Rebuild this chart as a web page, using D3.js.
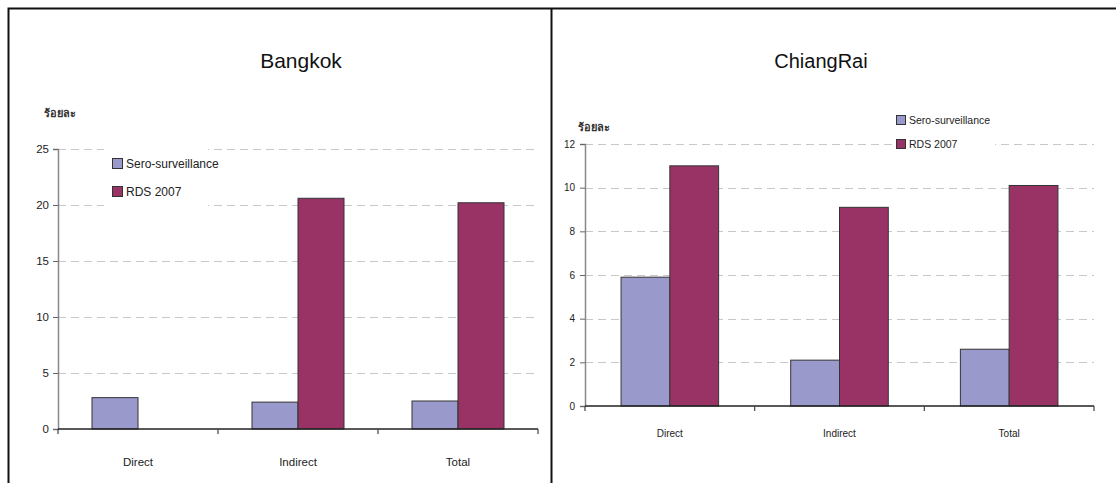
<!DOCTYPE html>
<html><head><meta charset="utf-8">
<script src="https://cdn.jsdelivr.net/npm/d3@7"></script>
<style>body{margin:0;background:#fff}svg{display:block}text{font-family:"Liberation Sans",Arial,sans-serif}</style>
</head><body><svg id="c" width="1116" height="483"></svg>
<script>
const categories = ["Direct","Indirect","Total"];
const seriesNames = ["Sero-surveillance","RDS 2007"];
const bangkokSero = [2.8, 2.4, 2.5];
const bangkokRDS = [null, 20.6, 20.2];
const chiangRaiSero = [5.9, 2.1, 2.6];
const chiangRaiRDS = [11.0, 9.1, 10.1];
const bangkokTicks = [0,5,10,15,20,25];
const chiangRaiTicks = [0,2,4,6,8,10,12];
const colors = ["#9999CC","#993366"];
const yLabel = "ร้อยละ";

const svg = d3.select("#c");
// panel borders
svg.append("path").attr("d","M8.5,483 V8.5 H1116").attr("fill","none").attr("stroke","#111").attr("stroke-width",2);
svg.append("line").attr("x1",551.5).attr("x2",551.5).attr("y1",8).attr("y2",483).attr("stroke","#111").attr("stroke-width",2);

function panel(cfg){
  const g = svg.append("g");
  const x = d3.scaleBand().domain(categories).range([cfg.x0,cfg.x1]);
  const x1 = d3.scaleBand().domain(seriesNames).range([0,x.bandwidth()]).paddingInner(0).paddingOuter(0.739);
  const y = d3.scaleLinear().domain([0,cfg.ticks[cfg.ticks.length-1]]).range([cfg.y0,cfg.yTop]);
  // gridlines
  g.append("g").selectAll("line").data(cfg.ticks.filter(t=>t>0)).join("line")
    .attr("x1",cfg.x0).attr("x2",cfg.x1).attr("y1",d=>Math.round(y(d))+0.5).attr("y2",d=>Math.round(y(d))+0.5)
    .attr("stroke","#c8c8c8").attr("stroke-dasharray","8,5");
  // legend background
  g.append("rect").attr("x",cfg.lg[0]).attr("y",cfg.lg[1]).attr("width",cfg.lg[2]).attr("height",cfg.lg[3]).attr("fill","#fff");
  // bars
  const data = [];
  categories.forEach((c,i)=>{ cfg.vals.forEach((arr,j)=>{ if(arr[i]!=null) data.push({c,s:seriesNames[j],v:arr[i],j}); }); });
  g.append("g").selectAll("rect").data(data).join("rect")
    .attr("x",d=>x(d.c)+x1(d.s)).attr("width",x1.bandwidth())
    .attr("y",d=>y(d.v)).attr("height",d=>y(0)-y(d.v))
    .attr("fill",d=>colors[d.j]).attr("stroke","#333").attr("stroke-width",1);
  // y axis
  const ya = g.append("g").attr("transform",`translate(${cfg.x0},0)`)
    .call(d3.axisLeft(y).tickValues(cfg.ticks).tickSize(5).tickPadding(cfg.tp).tickFormat(d3.format("d")));
  ya.select(".domain").attr("stroke","#888").attr("stroke-width",1.5);
  ya.selectAll(".tick line").attr("stroke","#666");
  ya.selectAll("text").attr("font-size",cfg.fs).attr("fill","#222").attr("font-family","Liberation Sans, Arial, sans-serif");
  // x axis
  g.append("line").attr("x1",cfg.x0).attr("x2",cfg.x1).attr("y1",y(0)).attr("y2",y(0)).attr("stroke","#222").attr("stroke-width",1.5);
  const bounds = categories.map(c=>x(c)).concat([cfg.x1]);
  g.append("g").selectAll("line").data(bounds).join("line")
    .attr("x1",d=>d).attr("x2",d=>d).attr("y1",y(0)).attr("y2",y(0)+5).attr("stroke","#444").attr("stroke-width",1.2);
  g.append("g").selectAll("text").data(categories).join("text")
    .attr("x",d=>x(d)+x.bandwidth()/2).attr("y",cfg.catY).attr("text-anchor","middle")
    .attr("font-size",cfg.fs).attr("fill","#222").text(d=>d);
  // title
  g.append("text").attr("x",cfg.titleX).attr("y",68).attr("text-anchor","middle").attr("font-size",cfg.tfs).attr("fill","#111").text(cfg.title);
  // y label
  g.append("text").attr("x",cfg.ylab[0]).attr("y",cfg.ylab[1]).attr("font-size",11).attr("font-weight","bold").attr("fill","#333").text(yLabel);
  // legend
  seriesNames.forEach((s,j)=>{
    const ly = cfg.leg[1] + j*cfg.leg[2];
    g.append("rect").attr("x",cfg.leg[0]+0.5).attr("y",ly+0.5).attr("width",cfg.sw).attr("height",cfg.sw)
      .attr("fill",colors[j]).attr("stroke","#333");
    g.append("text").attr("x",cfg.leg[0]+cfg.sw+4).attr("y",ly+cfg.sw-0.5).attr("font-size",cfg.lfs).attr("fill","#222").text(s);
  });
}

panel({x0:58,x1:538,y0:429,yTop:149,ticks:bangkokTicks,vals:[bangkokSero,bangkokRDS],fs:11.5,tp:4,catY:466,
  title:"Bangkok",titleX:301,tfs:21,ylab:[44,117],leg:[112,158,28],sw:10,lfs:12,lg:[104,143,104,66]});
panel({x0:585,x1:1094,y0:406,yTop:144,ticks:chiangRaiTicks,vals:[chiangRaiSero,chiangRaiRDS],fs:10,tp:5,catY:437,
  title:"ChiangRai",titleX:821,tfs:20,ylab:[578,131],leg:[896,115,24],sw:9,lfs:10.5,lg:[892,110,103,40]});
</script></body></html>
